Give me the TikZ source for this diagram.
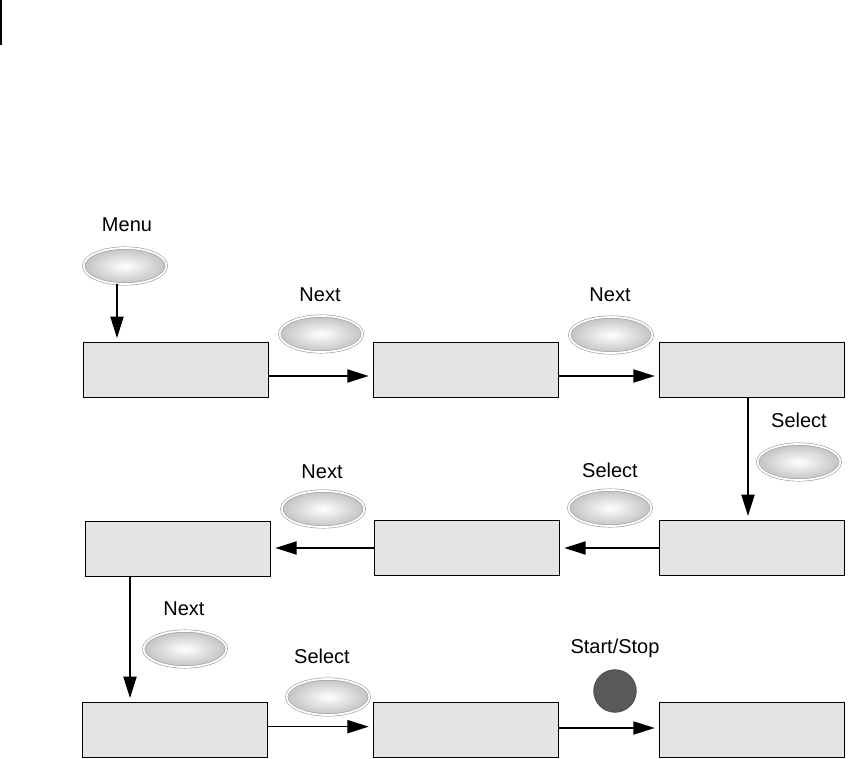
\documentclass[tikz,border=0pt]{standalone}
\usepackage{fontspec}
\setmainfont{Liberation Sans}
\usetikzlibrary{shapes.geometric, arrows.meta, calc}
\definecolor{ScreenGray}{HTML}{E4E4E4}
\definecolor{KeyRim}{HTML}{A4A4A4}
\definecolor{KeyShade}{HTML}{C2C2C2}
\definecolor{StopGray}{HTML}{595959}
\tikzset{
  screen/.style={draw=black, line width=1.1pt, fill=ScreenGray,
    minimum width=139pt, minimum height=41pt, inner sep=0pt},
  key/.style={ellipse, draw=KeyRim, line width=0.5pt, double=white,
    double distance=1.3pt, inner color=white, outer color=KeyShade,
    minimum width=62pt, minimum height=27pt, inner sep=0pt},
  stopkey/.style={circle, fill=StopGray, draw=StopGray!85!black,
    line width=0.5pt, minimum size=32pt, inner sep=0pt},
  keylabel/.style={anchor=base, inner sep=0pt, font=\fontsize{15}{18}\selectfont},
  flow/.style={line width=0.8pt, -{Triangle[length=16pt,width=10pt]}, shorten >=3pt}
}

\begin{document}
\begin{tikzpicture}[x=0.75pt, y=-0.75pt]
  \useasboundingbox (0,0) rectangle (850,759);
  \draw[line width=1.5pt] (1,0) -- (1,45);

  % screens
  \node[screen] (b1) at (176,370) {};
  \node[screen] (b2) at (466,370) {};
  \node[screen] (b3) at (752,370) {};
  \node[screen] (b4) at (178,549) {};
  \node[screen] (b5) at (467,548) {};
  \node[screen] (b6) at (752,548) {};
  \node[screen] (b7) at (175,730) {};
  \node[screen] (b8) at (466,730) {};
  \node[screen] (b9) at (752,730) {};

  % keys
  \node[key] (menu) at (125,266) {};
  \node[key] (next1) at (321,334) {};
  \node[key] (next2) at (611,335) {};
  \node[key] (sel1) at (799,462) {};
  \node[key] (sel2) at (610,508) {};
  \node[key] (next3) at (323,509) {};
  \node[key] (next4) at (185,649) {};
  \node[key] (sel3) at (328,697) {};
  \node[stopkey] (stop) at (615,691) {};

  \node[keylabel] (menut) at (127,232) {Menu};
  \node[keylabel] (next1t) at (320,302) {Next};
  \node[keylabel] (next2t) at (610,302) {Next};
  \node[keylabel] (sel1t) at (799,427) {Select};
  \node[keylabel] (sel2t) at (610,477) {Select};
  \node[keylabel] (next3t) at (322,478) {Next};
  \node[keylabel] (next4t) at (184,615) {Next};
  \node[keylabel] (sel3t) at (322,663) {Select};
  \node[keylabel] (stopt) at (615,653) {Start/Stop};

  % connectors
  \draw[flow] ([xshift=-6pt]menu.south) -- ([xshift=-6pt]menu.south |- b1.north);
  \draw[flow] ([yshift=-4.5pt]b1.east) -- ([yshift=-4.5pt]b1.east -| b2.west);
  \draw[flow] ([yshift=-4.5pt]b2.east) -- ([yshift=-4.5pt]b2.east -| b3.west);
  \draw[flow] ([xshift=-3pt]b3.south) -- ([xshift=-3pt]b3.south |- b6.north);
  \draw[flow] (b6.west) -- (b6.west -| b5.east);
  \draw[flow] (b5.west) -- (b5.west -| b4.east);
  \draw[flow] ([xshift=-36pt]b4.south) -- ([xshift=-36pt]b4.south |- b7.north);
  \draw[flow] ([yshift=2.5pt]b7.east) -- ([yshift=2.5pt]b7.east -| b8.west);
  \draw[flow] ([yshift=1.5pt]b8.east) -- ([yshift=1.5pt]b8.east -| b9.west);
\end{tikzpicture}
\end{document}
